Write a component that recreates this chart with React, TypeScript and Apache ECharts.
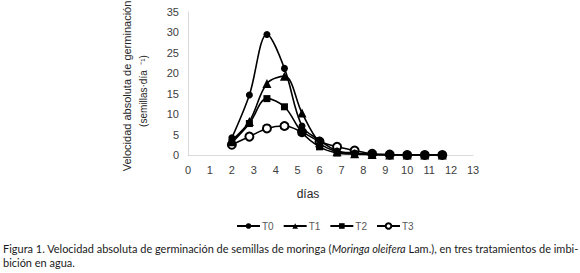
import React, { useEffect, useRef } from "react";
import * as echarts from "echarts";

const days = [2, 2.8, 3.6, 4.4, 5.2, 6.0, 6.8, 7.6, 8.4, 9.2, 10.0, 10.8, 11.6];
const t0 = [4.2, 14.7, 29.5, 21.2, 7.1, 3.6, 1.0, 0.5, 0.2, 0.1, 0, 0, 0];
const t1 = [3.6, 8.2, 17.5, 19.3, 10.3, 3.0, 0.8, 0.3, 0.1, 0, 0, 0, 0];
const t2 = [3.0, 7.7, 13.8, 11.8, 5.5, 2.0, 0.5, 0.2, 0.1, 0, 0, 0, 0];
const t3 = [2.5, 4.5, 6.5, 7.1, 5.6, 3.3, 2.0, 1.1, 0.3, 0.1, 0, 0, 0];
const seriesNames = ["T0", "T1", "T2", "T3"];
const seriesSymbols = ["circle", "triangle", "rect", "emptyCircle"];

const yTitle = "Velocidad absoluta de germinación";
const yUnit = "(semillas·día  ⁻¹)";
const xTitle = "días";
const captionA = "Figura 1. Velocidad absoluta de germinación de semillas de moringa (";
const captionItalic = "Moringa oleifera";
const captionB = " Lam.), en tres tratamientos de imbi-";
const captionLine2 = "bición en agua.";

export default function App() {
  const ref = useRef<HTMLDivElement>(null);
  useEffect(() => {
    if (!ref.current) return;
    const chart = echarts.init(ref.current, null, { renderer: "svg" });
    const all = [t0, t1, t2, t3];
    const sizes = [7, 9, 7, 8];
    const zs = [3, 4, 5, 2];
    const axisFont = { fontFamily: "Liberation Sans, Arial, sans-serif", fontSize: 11, color: "#404040" };
    const capFont = "Lato, sans-serif";
    const capSize = 10.98;
    chart.setOption({
      animation: false,
      backgroundColor: "#ffffff",
      grid: { left: 188, right: 107, top: 12, bottom: 118, containLabel: false },
      xAxis: {
        type: "value",
        min: 0,
        max: 13,
        interval: 1,
        axisLine: { show: true, lineStyle: { color: "#d9d9d9", width: 1 } },
        axisTick: { show: false },
        splitLine: { show: false },
        axisLabel: { ...axisFont, margin: 9 },
      },
      yAxis: {
        type: "value",
        min: 0,
        max: 35,
        interval: 5,
        axisLine: { show: true, lineStyle: { color: "#d9d9d9", width: 1 } },
        axisTick: { show: false },
        splitLine: { show: false },
        axisLabel: { ...axisFont, margin: 9 },
      },
      legend: {
        left: 231,
        top: 216,
        itemWidth: 23,
        itemHeight: 7,
        itemGap: 9,
        textStyle: { fontFamily: "Liberation Sans, Arial, sans-serif", fontSize: 10, color: "#595959", padding: [0, 0, 0, -3] },
        data: seriesNames,
      },
      series: all.map((vals, i) => ({
        name: seriesNames[i],
        type: "line",
        smooth: 0.35,
        symbol: seriesSymbols[i],
        symbolSize: sizes[i],
        z: zs[i],
        lineStyle: { color: "#000000", width: 1.6 },
        itemStyle: { color: "#000000", borderColor: "#000000", borderWidth: i === 3 ? 1 : 0 },
        data: days.map((d, j) => [d, vals[j]]),
      })),
      graphic: [
        {
          type: "text",
          x: 127,
          y: 86,
          rotation: Math.PI / 2,
          style: {
            text: yTitle,
            fontFamily: "Liberation Sans, Arial, sans-serif",
            fontSize: 11,
            fill: "#262626",
            align: "center",
            verticalAlign: "middle",
          },
        },
        {
          type: "text",
          x: 143,
          y: 91,
          rotation: Math.PI / 2,
          style: {
            text: yUnit,
            fontFamily: "Liberation Sans, Arial, sans-serif",
            fontSize: 10,
            fill: "#262626",
            align: "center",
            verticalAlign: "middle",
          },
        },
        {
          type: "text",
          x: 308,
          y: 194,
          style: {
            text: xTitle,
            fontFamily: "Liberation Sans, Arial, sans-serif",
            fontSize: 12,
            fill: "#262626",
            align: "center",
            verticalAlign: "middle",
          },
        },
        {
          type: "text",
          x: 3,
          y: 248,
          style: {
            text: "{n|" + captionA + "}{i|" + captionItalic + "}{n|" + captionB + "}",
            verticalAlign: "middle",
            rich: {
              n: { fontFamily: capFont, fontSize: capSize, fill: "#1a1a1a" },
              i: { fontFamily: capFont, fontSize: capSize, fontStyle: "italic", fill: "#1a1a1a" },
            },
          },
        },
        {
          type: "text",
          x: 3,
          y: 262,
          style: {
            text: captionLine2,
            fontFamily: capFont,
            fontSize: capSize,
            fill: "#1a1a1a",
            verticalAlign: "middle",
          },
        },
      ],
    });
    return () => chart.dispose();
  }, []);
  return (
    <div
      ref={ref}
      style={{ position: "fixed", left: 0, top: 0, width: 580, height: 273 }}
    />
  );
}
